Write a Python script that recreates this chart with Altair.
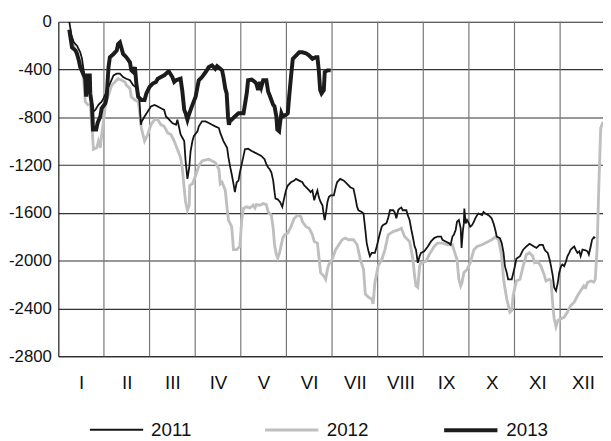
import altair as alt
import pandas as pd

# ---- data (month position 0..12, value) ----
m2011 = [0.24,0.29,0.34,0.41,0.48,0.52,0.56,0.59,0.63,0.66,0.70,0.74,0.77,0.81,0.88,0.95,0.99,1.04,1.10,1.21,
         1.28,1.35,1.42,1.49,1.57,1.64,1.69,1.75,1.78,1.81,1.83,1.89,1.96,2.03,2.11,2.18,2.25,2.32,2.36,2.43,
         2.50,2.58,2.61,2.65,2.68,2.76,2.79,2.83,2.87,2.90,2.94,2.97,3.05,3.08,3.15,3.23,3.30,3.37,3.44,3.52,
         3.55,3.62,3.70,3.73,3.77,3.80,3.84,3.87,3.91,3.95,3.98,4.02,4.06,4.09,4.16,4.24,4.31,4.38,4.45,4.52,
         4.56,4.60,4.63,4.67,4.71,4.74,4.76,4.81,4.86,4.91,4.94,4.99,5.03,5.10,5.17,5.21,5.28,5.35,5.39,5.43,
         5.50,5.53,5.57,5.61,5.64,5.68,5.71,5.75,5.79,5.82,5.84,5.87,5.90,5.93,5.97,6.04,6.08,6.11,6.18,6.26,
         6.33,6.40,6.47,6.51,6.55,6.58,6.65,6.69,6.73,6.76,6.80,6.83,6.87,6.94,6.98,7.05,7.09,7.12,7.19,7.23,
         7.27,7.34,7.37,7.41,7.45,7.48,7.52,7.55,7.63,7.66,7.70,7.74,7.77,7.81,7.84,7.88,7.92,7.95,8.02,8.10,
         8.17,8.24,8.31,8.39,8.42,8.49,8.56,8.60,8.64,8.67,8.71,8.74,8.78,8.82,8.84,8.87,8.89,8.90,8.93,8.96,
         9.00,9.03,9.07,9.11,9.14,9.18,9.21,9.29,9.32,9.36,9.43,9.47,9.50,9.54,9.58,9.61,9.68,9.72,9.76,9.79,
         9.83,9.86,9.94,10.01,10.04,10.12,10.19,10.26,10.33,10.40,10.48,10.55,10.62,10.66,10.69,10.73,10.77,10.80,10.84,10.87,
         10.91,10.95,10.98,11.02,11.05,11.09,11.13,11.16,11.20,11.23,11.27,11.31,11.34,11.38,11.42,11.45,11.49,11.56,11.60,11.63,
         11.67,11.70,11.74,11.77]
v2011 = [0,-118,-173,-201,-256,-311,-421,-477,-531,-586,-614,-683,-752,-738,-696,-669,-642,-600,-545,-449,
         -435,-435,-463,-477,-490,-531,-545,-586,-669,-862,-834,-793,-752,-710,-696,-710,-724,-738,-793,-820,
         -848,-862,-820,-890,-944,-999,-1165,-1316,-1220,-1082,-999,-958,-917,-876,-834,-834,-848,-862,-876,-890,
         -931,-999,-1055,-1137,-1220,-1275,-1357,-1427,-1344,-1330,-1261,-1192,-1123,-1068,-1063,-1082,-1096,-1109,-1123,-1151,
         -1192,-1220,-1233,-1261,-1330,-1427,-1481,-1487,-1509,-1550,-1495,-1412,-1371,-1344,-1330,-1316,-1330,-1344,-1371,-1385,
         -1412,-1427,-1412,-1495,-1454,-1412,-1468,-1509,-1536,-1619,-1660,-1592,-1509,-1468,-1454,-1454,-1385,-1344,-1316,-1330,
         -1357,-1385,-1398,-1468,-1550,-1578,-1592,-1605,-1743,-1853,-1922,-1963,-1935,-1935,-1881,-1770,-1716,-1702,-1688,-1646,
         -1578,-1578,-1592,-1646,-1578,-1564,-1555,-1578,-1578,-1619,-1660,-1743,-1798,-1881,-1908,-2018,-1963,-1935,-1922,-1881,
         -1839,-1811,-1798,-1798,-1825,-1839,-1853,-1867,-1798,-1784,-1743,-1674,-1660,-1729,-1894,-1743,-1688,-1564,-1688,-1660,
         -1688,-1716,-1702,-1674,-1646,-1619,-1605,-1619,-1592,-1605,-1619,-1633,-1646,-1688,-1743,-1798,-1811,-1853,-1935,-2046,
         -2101,-2156,-2156,-2046,-1985,-1963,-1908,-1881,-1859,-1875,-1894,-1867,-1867,-1908,-1922,-1935,-1991,-2046,-2129,-2224,
         -2252,-2183,-2101,-2046,-2032,-2046,-2005,-1963,-1935,-1908,-1894,-1881,-1908,-1935,-1922,-1963,-1908,-1914,-1922,-1949,
         -1881,-1825,-1803,-1811]

m2012 = [0.25,0.30,0.36,0.45,0.51,0.56,0.59,0.65,0.70,0.74,0.77,0.84,0.88,0.92,0.95,0.99,1.03,1.10,1.17,1.24,
         1.31,1.39,1.46,1.49,1.57,1.60,1.68,1.75,1.78,1.82,1.89,1.96,2.03,2.11,2.18,2.25,2.32,2.40,2.47,2.54,
         2.61,2.68,2.72,2.76,2.79,2.83,2.87,2.88,2.94,3.01,3.08,3.15,3.23,3.30,3.37,3.44,3.52,3.55,3.59,3.66,
         3.70,3.73,3.80,3.84,3.91,3.98,4.02,4.06,4.13,4.20,4.27,4.31,4.34,4.42,4.49,4.56,4.60,4.67,4.71,4.74,
         4.78,4.81,4.85,4.92,4.96,5.03,5.10,5.17,5.25,5.32,5.35,5.43,5.50,5.57,5.61,5.68,5.71,5.75,5.82,5.86,
         5.90,5.93,6.00,6.08,6.15,6.22,6.29,6.36,6.47,6.55,6.62,6.69,6.73,6.80,6.87,6.90,6.94,7.01,7.09,7.16,
         7.23,7.34,7.45,7.52,7.59,7.66,7.70,7.77,7.81,7.84,7.88,7.92,7.95,8.06,8.13,8.24,8.31,8.42,8.53,8.64,
         8.67,8.74,8.78,8.82,8.85,8.89,8.96,9.03,9.11,9.18,9.29,9.36,9.43,9.50,9.58,9.65,9.72,9.76,9.83,9.90,
         9.94,9.97,10.04,10.12,10.19,10.26,10.33,10.40,10.44,10.51,10.58,10.66,10.69,10.77,10.80,10.84,10.87,10.91,10.95,11.02,
         11.09,11.16,11.23,11.31,11.38,11.45,11.52,11.56,11.60,11.67,11.74,11.77,11.81,11.85,11.89,11.94]
v2012 = [-77,-146,-229,-311,-366,-504,-669,-696,-696,-890,-1068,-1055,-999,-1055,-944,-834,-696,-614,-531,-504,
         -477,-490,-504,-531,-559,-628,-655,-669,-752,-890,-999,-944,-862,-820,-820,-862,-876,-931,-944,-999,
         -1068,-1137,-1233,-1398,-1509,-1578,-1536,-1371,-1357,-1289,-1206,-1165,-1156,-1151,-1165,-1179,-1233,-1357,-1344,-1412,
         -1564,-1660,-1716,-1908,-1908,-1881,-1660,-1561,-1550,-1559,-1536,-1559,-1531,-1536,-1522,-1531,-1592,-1619,-1729,-1867,
         -1949,-1977,-1935,-1811,-1784,-1770,-1716,-1646,-1619,-1633,-1674,-1716,-1729,-1784,-1839,-1853,-1963,-2101,-2129,-2156,
         -2073,-2032,-1991,-1908,-1867,-1825,-1811,-1825,-1825,-1867,-1991,-2073,-2280,-2307,-2321,-2362,-2183,-2046,-1991,-1908,
         -1784,-1757,-1743,-1729,-1798,-1825,-1839,-1977,-2129,-2211,-2224,-2046,-2018,-2005,-1949,-1881,-1853,-1853,-1867,-1867,
         -1908,-1991,-2156,-2211,-2183,-2101,-2073,-2018,-1908,-1881,-1867,-1853,-1839,-1825,-1803,-1825,-1963,-2156,-2321,-2431,
         -2418,-2294,-2170,-2156,-2046,-1949,-1935,-1963,-2018,-2005,-2046,-2129,-2170,-2156,-2170,-2376,-2486,-2552,-2500,-2486,
         -2472,-2431,-2376,-2348,-2294,-2252,-2211,-2224,-2183,-2170,-2178,-2156,-1908,-1357,-890,-840]

m2013 = [0.24,0.30,0.38,0.41,0.45,0.48,0.56,0.59,0.61,0.63,0.69,0.70,0.74,0.76,0.83,0.86,0.92,0.95,1.03,1.06,
         1.10,1.13,1.21,1.28,1.31,1.35,1.39,1.42,1.49,1.57,1.60,1.64,1.68,1.71,1.75,1.82,1.89,1.93,2.00,2.07,
         2.14,2.18,2.32,2.40,2.43,2.50,2.54,2.58,2.68,2.72,2.76,2.79,2.83,2.85,2.90,2.94,3.01,3.05,3.08,3.15,
         3.23,3.30,3.37,3.44,3.48,3.59,3.62,3.66,3.69,3.72,3.74,3.77,3.80,3.87,3.95,4.06,4.13,4.16,4.24,4.31,
         4.34,4.38,4.42,4.45,4.49,4.56,4.60,4.63,4.67,4.71,4.74,4.78,4.80,4.84,4.86,4.89,4.92,4.99,5.03,5.06,
         5.10,5.14,5.21,5.28,5.35,5.43,5.50,5.57,5.64,5.68,5.71,5.74,5.77,5.82,5.84,5.90,5.97]
v2013 = [-66,-215,-242,-270,-325,-380,-449,-477,-628,-449,-449,-600,-710,-903,-903,-848,-793,-724,-683,-628,
         -380,-297,-270,-242,-187,-173,-229,-270,-297,-339,-407,-421,-380,-518,-628,-655,-655,-600,-545,-518,
         -504,-477,-449,-421,-421,-463,-504,-490,-477,-586,-738,-766,-820,-793,-738,-696,-628,-545,-490,-463,
         -421,-380,-366,-394,-372,-407,-463,-559,-600,-793,-862,-820,-820,-793,-766,-766,-600,-490,-485,-504,
         -518,-572,-504,-545,-490,-490,-586,-614,-655,-696,-710,-793,-903,-917,-848,-766,-793,-779,-766,-628,
         -463,-311,-283,-256,-256,-264,-283,-311,-297,-297,-407,-572,-600,-572,-421,-407,-407]

years = ["2011", "2012", "2013"]
colors = ["#141414", "#bfbfbf", "#1c1c1c"]
widths = [1.8, 4.0, 3.8]
month_labels = ["I", "II", "III", "IV", "V", "VI", "VII", "VIII", "IX", "X", "XI", "XII"]
y_ticks = [0, -400, -800, -1200, -1600, -2000, -2400, -2800]
boundaries = [1, 2, 3, 4, 5, 6, 7, 8, 9, 10, 11]

FONT = "Liberation Sans"

def frame(ms, vs, yr):
    return pd.DataFrame({"m": ms, "v": vs, "year": yr})

label_arr = "[" + ",".join("'%s'" % s for s in month_labels) + "]"

x_enc = alt.X(
    "m:Q",
    scale=alt.Scale(domain=[0, 11.94], nice=False, zero=False),
    axis=alt.Axis(
        values=[i + 0.5 for i in range(12)],
        labelExpr=label_arr + "[floor(datum.value)]",
        grid=False, ticks=False, domain=True, domainColor="#222", domainWidth=1.2,
        labelFont=FONT, labelFontSize=19, labelColor="#111", labelPadding=18,
        title=None,
    ),
)
y_enc = alt.Y(
    "v:Q",
    scale=alt.Scale(domain=[-2800, 0], nice=False, zero=False),
    axis=alt.Axis(
        values=y_ticks, labelExpr="'' + datum.value",
        grid=True, gridColor="#333", gridWidth=1.1, ticks=False,
        domain=True, domainColor="#222", domainWidth=1.2,
        labelFont=FONT, labelFontSize=17, labelColor="#111", labelPadding=7,
        title=None,
    ),
)

leg = alt.Legend(
    orient="none", legendX=31, legendY=385, direction="horizontal", title=None,
    symbolType="stroke", symbolSize=2916, labelFont=FONT, labelFontSize=19,
    labelColor="#111", columnPadding=68, labelOffset=7,
)
color_enc = alt.Color("year:N", scale=alt.Scale(domain=years, range=colors), legend=leg)
width_enc = alt.StrokeWidth("year:N", scale=alt.Scale(domain=years, range=widths), legend=leg)

grid_rules = alt.Chart(pd.DataFrame({"m": boundaries})).mark_rule(
    color="#777", strokeWidth=1.2
).encode(x=x_enc)

def line(ms, vs, yr):
    return alt.Chart(frame(ms, vs, yr)).mark_line(clip=True, strokeJoin="miter").encode(
        x=x_enc, y=y_enc, color=color_enc, strokeWidth=width_enc
    )

chart = alt.layer(
    grid_rules,
    line(m2012, v2012, "2012"),
    line(m2011, v2011, "2011"),
    line(m2013, v2013, "2013"),
).properties(
    width=552, height=339,
    autosize=alt.AutoSizeParams(type="none"),
    padding={"left": 51, "top": 11, "right": 0, "bottom": 83},
).configure_view(stroke=None).configure(background="white")

chart.save("out.html", embed_options={"renderer": "svg", "actions": False})
